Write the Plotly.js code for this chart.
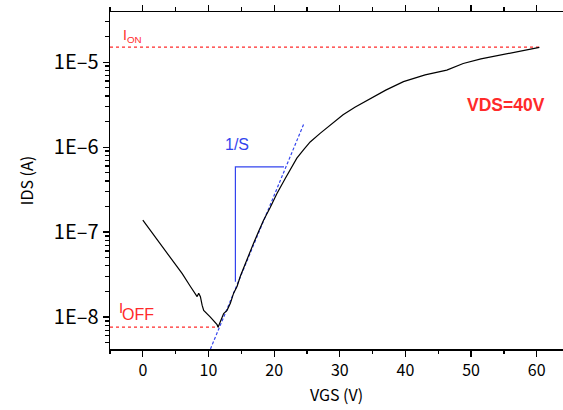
<!DOCTYPE html>
<html>
<head>
<meta charset="utf-8">
<script src="https://cdn.plot.ly/plotly-3.0.1.min.js"></script>
<style>html,body{margin:0;padding:0;background:#fff;}#chart{width:563px;height:410px;}</style>
</head>
<body>
<div id="chart"></div>
<script>
// Transfer curve IDS vs VGS (VDS = 40 V)
const vgs = [0, 2, 4, 6, 7.25, 7.75, 8.27, 8.51, 8.77, 9.03, 9.27, 10.29, 11.31, 11.46, 11.81, 12.31, 12.83, 13.33, 13.83, 14.35, 14.85, 15.35, 15.87, 16.37, 16.87, 17.6, 18.39, 19.4, 20.43, 21.69, 22.6, 23.46, 24.5, 25.49, 27.0, 28.7, 30.5, 32.3, 34.1, 37.0, 39.7, 43.0, 46.3, 48.8, 51.5, 54.4, 57.5, 60.4];
const ids = [1.38e-7, 8.51e-8, 5.25e-8, 3.24e-8, 2.29e-8, 2.00e-8, 1.74e-8, 1.91e-8, 1.74e-8, 1.38e-8, 1.20e-8, 1.00e-8, 8.13e-9, 7.59e-9, 8.71e-9, 1.10e-8, 1.20e-8, 1.45e-8, 1.91e-8, 2.29e-8, 3.02e-8, 3.80e-8, 4.79e-8, 5.75e-8, 7.41e-8, 1.00e-7, 1.38e-7, 1.95e-7, 2.85e-7, 4.27e-7, 5.75e-7, 7.41e-7, 9.33e-7, 1.15e-6, 1.45e-6, 1.84e-6, 2.40e-6, 2.95e-6, 3.55e-6, 4.68e-6, 5.89e-6, 7.08e-6, 8.05e-6, 9.64e-6, 1.09e-5, 1.21e-5, 1.35e-5, 1.49e-5];

// Reference levels
const ionLevel = 1.5e-5;
const ionX = [-5, 60.4];
const ioffLevel = 7.6e-9;
const ioffX = [-5, 11.5];

// Subthreshold tangent line (slope 1/S)
const tangentX = [10.3, 24.5];
const tangentY = [4.21e-9, 1.86e-6];

// 1/S slope triangle
const slopeX = [14.1, 14.1, 21.5];
const slopeY = [2.60e-8, 5.86e-7, 5.86e-7];

// Axis ticks
const yTickVals = [1e-8, 1e-7, 1e-6, 1e-5];
const yTickText = ['1E\u20138', '1E\u20137', '1E\u20136', '1E\u20135'];
const xTickVals = [0, 10, 20, 30, 40, 50, 60];
const xTickText = ['0', '10', '20', '30', '40', '50', '60'];
const decades = [-9, -8, -7, -6, -5];
const mantissas = [2, 3, 4, 5, 6, 7, 8, 9];
const yMinorVals = [];
decades.forEach(d => mantissas.forEach(m => yMinorVals.push(m * Math.pow(10, d))));

const red = '#ff2a2a';
const blue = '#3344ee';
const tickFont = "'Noto Sans CJK JP', sans-serif";
const labelFont = "'Liberation Sans', Arial, sans-serif";

const traces = [
  {x: ionX, y: [ionLevel, ionLevel], mode: 'lines', line: {color: red, width: 1.2, dash: 'dot'}, hoverinfo: 'skip'},
  {x: ioffX, y: [ioffLevel, ioffLevel], mode: 'lines', line: {color: red, width: 1.2, dash: 'dot'}, hoverinfo: 'skip'},
  {x: tangentX, y: tangentY, mode: 'lines', line: {color: blue, width: 1.2, dash: '3px,2px'}, hoverinfo: 'skip'},
  {x: slopeX, y: slopeY, mode: 'lines', line: {color: blue, width: 1.2}, hoverinfo: 'skip'},
  {x: vgs, y: ids, mode: 'lines', line: {color: '#000', width: 1.2, shape: 'linear'}, name: 'IDS'}
];

const layout = {
  width: 563, height: 410,
  margin: {l: 110, r: 0, t: 12, b: 61, pad: 0},
  paper_bgcolor: '#fff', plot_bgcolor: '#fff',
  showlegend: false,
  xaxis: {
    range: [-5, 64], showgrid: false, zeroline: false,
    showline: true, linecolor: '#000', linewidth: 1.5, mirror: 'ticks',
    ticks: 'outside', ticklen: 6, tickwidth: 1.2, tickcolor: '#000',
    tickvals: xTickVals, ticktext: xTickText,
    minor: {dtick: 5, tick0: 0, ticks: 'outside', ticklen: 3.5, tickwidth: 1.2, tickcolor: '#000', showgrid: false},
    tickfont: {family: tickFont, size: 16, color: '#000'},
    title: {text: 'VGS (V)', font: {family: tickFont, size: 16, color: '#000'}, standoff: 10}
  },
  yaxis: {
    type: 'log', range: [-8.376, -4.41], showgrid: false, zeroline: false,
    showline: true, linecolor: '#000', linewidth: 1.5, mirror: false,
    ticks: 'outside', ticklen: 6, tickwidth: 1.2, tickcolor: '#000',
    tickvals: yTickVals, ticktext: yTickText,
    minor: {tickmode: 'array', tickvals: yMinorVals, ticks: 'outside', ticklen: 3.5, tickwidth: 1.2, tickcolor: '#000', showgrid: false},
    tickfont: {family: tickFont, size: 20, color: '#000'},
    title: {text: 'IDS (A)', font: {family: tickFont, size: 16, color: '#000'}, standoff: 16}
  },
  annotations: [
    {x: -3.3, y: Math.log10(2.02e-5), xref: 'x', yref: 'y', xanchor: 'left', yanchor: 'middle', showarrow: false,
     text: 'I<sub>ON</sub>', font: {family: labelFont, size: 14, color: red}},
    {x: -3.95, y: Math.log10(1.29e-8), xref: 'x', yref: 'y', xanchor: 'left', yanchor: 'middle', showarrow: false,
     text: 'I', font: {family: labelFont, size: 15, color: red}},
    {x: -3.5, y: Math.log10(1.08e-8), xref: 'x', yref: 'y', xanchor: 'left', yanchor: 'middle', showarrow: false,
     text: 'OFF', font: {family: labelFont, size: 16, color: red}},
    {x: 14.3, y: Math.log10(1.08e-6), xref: 'x', yref: 'y', xanchor: 'center', yanchor: 'middle', showarrow: false,
     text: '1/S', font: {family: labelFont, size: 16, color: blue}},
    {x: 55.3, y: Math.log10(3.12e-6), xref: 'x', yref: 'y', xanchor: 'center', yanchor: 'middle', showarrow: false,
     text: '<b>VDS=40V</b>', font: {family: labelFont, size: 17.5, color: red}}
  ]
};

Plotly.newPlot('chart', traces, layout, {staticPlot: true, displayModeBar: false});
</script>
</body>
</html>
